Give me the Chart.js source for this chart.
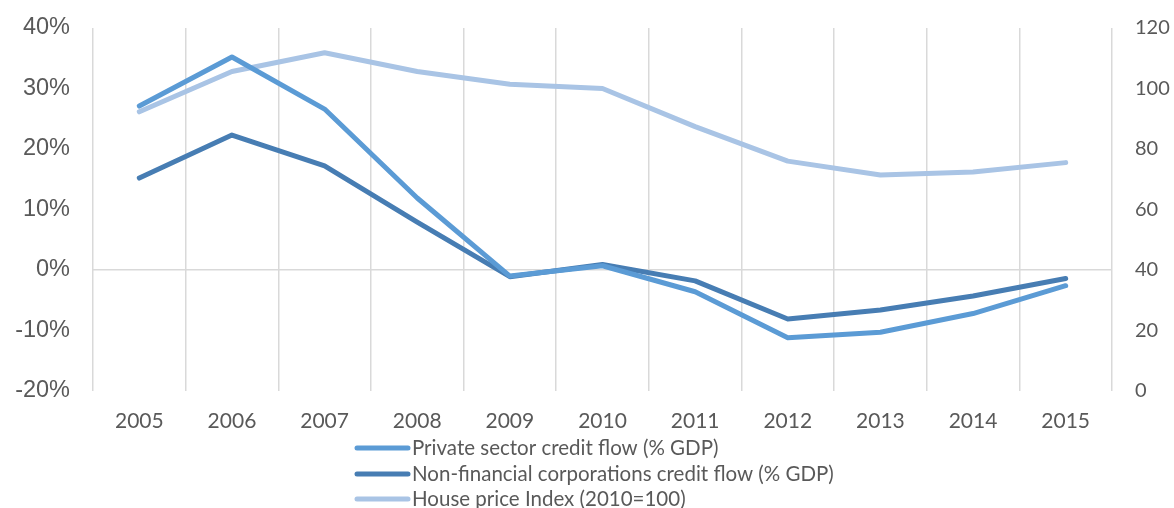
<!DOCTYPE html>
<html>
<head>
<meta charset="utf-8">
<script src="https://cdn.jsdelivr.net/npm/chart.js@4"></script>
<style>
html,body{margin:0;padding:0;background:#fff;}
#wrap{position:relative;width:1174px;height:508px;}
</style>
</head>
<body>
<div id="wrap"><canvas id="c" width="1174" height="508"></canvas></div>
<script>
const years = ['2005','2006','2007','2008','2009','2010','2011','2012','2013','2014','2015'];
const privateCredit = [27.1, 35.2, 26.6, 11.9, -1.0, 0.7, -3.6, -11.2, -10.3, -7.2, -2.6];
const nfcCredit = [15.2, 22.3, 17.2, 7.9, -1.1, 0.9, -1.8, -8.1, -6.6, -4.3, -1.4];
const housePrice = [92.3, 105.6, 111.8, 105.6, 101.4, 100.0, 87.4, 76.0, 71.4, 72.4, 75.5];
const leftTicks = [-20, -10, 0, 10, 20, 30, 40];
const rightTicks = [0, 20, 40, 60, 80, 100, 120];
const seriesNames = ['Private sector credit flow (% GDP)', 'Non-financial corporations credit flow (% GDP)', 'House price Index (2010=100)'];

const txt = '#595959';
const grid = '#d9d9d9';

const legendPlugin = {
  id: 'vlegend',
  afterDraw(chart) {
    const ctx = chart.ctx;
    const x0 = 357, x1 = 408, tx = 412;
    const rows = [448, 474, 499];
    ctx.save();
    chart.data.datasets.forEach((ds, i) => {
      ctx.strokeStyle = ds.borderColor;
      ctx.lineWidth = 5;
      ctx.lineCap = 'round';
      ctx.beginPath();
      ctx.moveTo(x0, rows[i]);
      ctx.lineTo(x1, rows[i]);
      ctx.stroke();
      ctx.fillStyle = txt;
      ctx.font = '20.5px Lato';
      ctx.textBaseline = 'middle';
      ctx.textAlign = 'left';
      ctx.fillText(ds.label, tx, rows[i]);
    });
    ctx.restore();
  }
};

const common = {
  borderWidth: 5,
  pointRadius: 0,
  pointHoverRadius: 0,
  tension: 0,
  borderCapStyle: 'round',
  borderJoinStyle: 'round',
  fill: false
};

new Chart(document.getElementById('c'), {
  type: 'line',
  data: {
    labels: years,
    datasets: [
      Object.assign({label: seriesNames[0], data: privateCredit, borderColor: '#5B9BD5', yAxisID: 'y'}, common),
      Object.assign({label: seriesNames[1], data: nfcCredit, borderColor: '#477DB3', yAxisID: 'y'}, common),
      Object.assign({label: seriesNames[2], data: housePrice, borderColor: '#A9C4E5', yAxisID: 'y2'}, common)
    ]
  },
  options: {
    responsive: false,
    animation: false,
    layout: {padding: {top: 28, left: 0, right: 0, bottom: 0}},
    plugins: {legend: {display: false}, tooltip: {enabled: false}},
    scales: {
      x: {
        offset: true,
        grid: {offset: true, color: grid, lineWidth: 1.5, drawTicks: false},
        border: {display: false},
        ticks: {color: txt, font: {family: 'Lato', size: 21}, padding: 18, maxRotation: 0},
        afterFit(s) { s.height = 117; s.paddingLeft = 0; s.paddingRight = 0; }
      },
      y: {
        position: 'left',
        min: -20, max: 40,
        afterBuildTicks(s) { s.ticks = leftTicks.map(v => ({value: v})); },
        grid: {
          drawTicks: false,
          lineWidth: 1.5,
          color: c => (c.tick && c.tick.value === 0) ? grid : 'rgba(0,0,0,0)'
        },
        border: {display: false},
        ticks: {color: txt, font: {family: 'Liberation Sans', size: 23.5}, padding: 23, callback: v => v + '%'},
        afterFit(s) { s.width = 93; s.paddingTop = 0; s.paddingBottom = 0; }
      },
      y2: {
        position: 'right',
        min: 0, max: 120,
        afterBuildTicks(s) { s.ticks = rightTicks.map(v => ({value: v})); },
        grid: {display: false, drawTicks: false},
        border: {display: false},
        ticks: {color: txt, font: {family: 'Lato', size: 20}, padding: 23},
        afterFit(s) { s.width = 62; s.paddingTop = 0; s.paddingBottom = 0; }
      }
    }
  },
  plugins: [legendPlugin]
});
</script>
</body>
</html>
